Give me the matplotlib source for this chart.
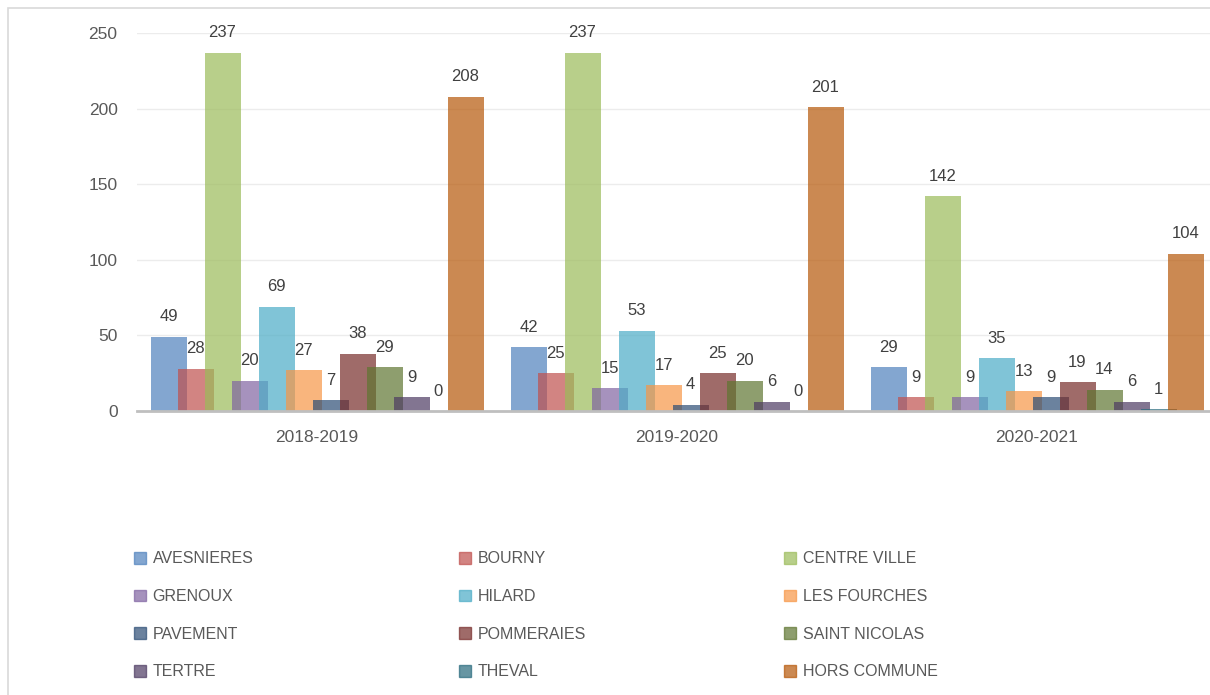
import matplotlib
matplotlib.use("Agg")
import matplotlib.pyplot as plt
import matplotlib.patches as mpatches
import numpy as np

years = ["2018-2019", "2019-2020", "2020-2021"]
quartiers = ["AVESNIERES", "BOURNY", "CENTRE VILLE", "GRENOUX", "HILARD",
             "LES FOURCHES", "PAVEMENT", "POMMERAIES", "SAINT NICOLAS",
             "TERTRE", "THEVAL", "HORS COMMUNE"]
avesnieres = [49, 42, 29]
bourny = [28, 25, 9]
centre_ville = [237, 237, 142]
grenoux = [20, 15, 9]
hilard = [69, 53, 35]
les_fourches = [27, 17, 13]
pavement = [7, 4, 9]
pommeraies = [38, 25, 19]
saint_nicolas = [29, 20, 14]
tertre = [9, 6, 6]
theval = [0, 0, 1]
hors_commune = [208, 201, 104]
valeurs = [avesnieres, bourny, centre_ville, grenoux, hilard, les_fourches,
           pavement, pommeraies, saint_nicolas, tertre, theval, hors_commune]

couleurs = ["#4F81BD", "#C0504D", "#9BBB59", "#8064A2", "#4BACC6", "#F79646",
            "#2C4D75", "#772C2A", "#5F7530", "#4D3B62", "#276A7C", "#B65708"]

plt.rcParams['font.family'] = ['Liberation Sans', 'DejaVu Sans']
fig = plt.figure(figsize=(12.1, 6.95), dpi=100)
ax = fig.add_axes([137/1210, 1 - 411/695, 1 - 137/1210, 378/695])

# bordure du graphique (coupee a droite et en bas)
fig.patches.append(mpatches.Rectangle((8/1210, -0.1), 1.2, 1 - 8/695 + 0.1,
                                      transform=fig.transFigure, fill=False,
                                      edgecolor="#d9d9d9", linewidth=1.2))

x = np.arange(len(years))
pas = 0.075
larg = 0.1
n = len(quartiers)
for i in range(n):
    pos = x + (i - (n - 1) / 2) * pas
    ax.bar(pos, valeurs[i], width=larg, color=couleurs[i], alpha=0.7,
           zorder=3, label=quartiers[i])
    for xx, v in zip(pos, valeurs[i]):
        ax.annotate(str(v), (xx, v), xytext=(0, 9), textcoords="offset points",
                    ha="center", va="bottom", fontsize=12, color="#404040",
                    annotation_clip=False, zorder=5)

ax.set_ylim(0, 250)
ax.set_xlim(-0.5, -0.5 + 1073/360)
ax.set_yticks([0, 50, 100, 150, 200, 250])
ax.set_xticks(x)
ax.set_xticklabels(years)
ax.tick_params(axis="both", length=0, colors="#595959", labelsize=12.5)
ax.tick_params(axis="y", pad=14)
ax.tick_params(axis="x", pad=14)
ax.yaxis.grid(True, color="#ececec", linewidth=1, zorder=0)
for s in ["top", "right", "left"]:
    ax.spines[s].set_visible(False)
ax.spines["bottom"].set_color("#bfbfbf")
ax.spines["bottom"].set_linewidth(2)
ax.spines["bottom"].set_zorder(4)

# legende : 3 colonnes remplies ligne par ligne
handles = [mpatches.Patch(color=c, alpha=0.7, label=q) for q, c in zip(quartiers, couleurs)]
for col in range(3):
    leg = fig.legend(handles=handles[col::3], ncol=1, frameon=False, loc="upper left",
                     bbox_to_anchor=((120 + col * 325) / 1210, 1 - 537/695),
                     fontsize=11.5, labelcolor="#595959", handlelength=0.75,
                     handleheight=0.75, handletextpad=0.4, labelspacing=1.42)

fig.savefig("out.png", dpi=100)
